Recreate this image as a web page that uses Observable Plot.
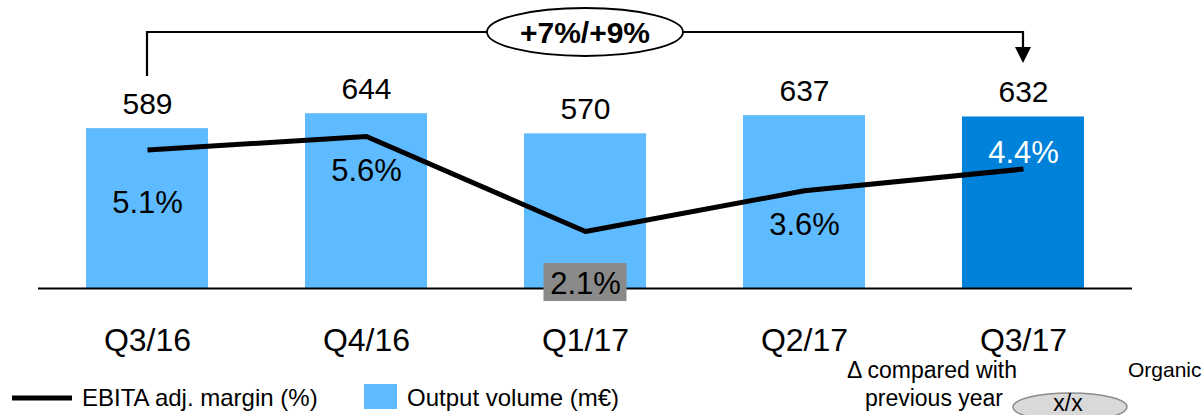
<!DOCTYPE html>
<html><head><meta charset="utf-8">
<script src="https://cdn.jsdelivr.net/npm/d3@7"></script>
<script src="https://cdn.jsdelivr.net/npm/@observablehq/plot@0.6"></script>
<style>
body{margin:0;background:#fff;}
#chart svg{font-family:"Liberation Sans",Arial,sans-serif;}
</style>
</head><body><div id="chart"></div>
<script>
// ---- data ----
const quarters = ["Q3/16","Q4/16","Q1/17","Q2/17","Q3/17"];
const outputVolume = [589,644,570,637,632];          // m€
const ebitaMargin = [5.1,5.6,2.1,3.6,4.4];           // %
const marginLabels = ["5.1%","5.6%","2.1%","3.6%","4.4%"];
const changeLabel = "+7%/+9%";
const legendLabels = ["EBITA adj. margin (%)","Output volume (m€)"];
const noteLines = ["Δ compared with","previous year"];
const noteBadge = "x/x";
const noteRight = "Organic";

// ---- styling ----
const LIGHT = "#5EBBFF", DARK = "#0082DA", GREY = "#8A8A8A";
const FONT = "Liberation Sans, Arial, sans-serif";
const marginToVolume = 100;             // 1 % drawn at the height of 100 m€
const marginLabelDy = [63,44,62,44,-6]; // label baseline offset from line point

const data = quarters.map((q,i)=>({
  q, vol: outputVolume[i], m: ebitaMargin[i] * marginToVolume,
  label: marginLabels[i], current: i === quarters.length - 1
}));

const plot = Plot.plot({
  width: 1203, height: 415,
  marginLeft: 38, marginRight: 71, marginTop: 0, marginBottom: 127,
  style: {fontFamily: FONT, background: "white", overflow: "visible"},
  x: {domain: quarters, paddingInner: 0.443, paddingOuter: 0.219, axis: null},
  y: {domain: [0, 1000], range: [288, 288 - 271.4], axis: null},
  color: {type: "identity"},
  marks: [
    Plot.barY(data, {x: "q", y: "vol", fill: d => d.current ? DARK : LIGHT}),
    Plot.ruleY([0], {stroke: "black", strokeWidth: 2}),
    Plot.text(data, {x: "q", y: "vol", text: d => String(d.vol), dy: -15,
      lineAnchor: "bottom", fontSize: 30, fill: "black"}),
    Plot.line(data, {x: "q", y: "m", stroke: "black", strokeWidth: 5,
      strokeLinejoin: "miter", strokeLinecap: "butt"}),
    ...data.map((d,i) => Plot.text([d], {x: "q", y: "m", text: "label",
      dy: marginLabelDy[i], lineAnchor: "bottom", fontSize: 31,
      fill: d.current ? "white" : "black", className: "mlabel-" + i})),
    Plot.axisX({fontSize: 32, tickSize: 0, tickPadding: 40, label: null, fill: "black"})
  ]
});
document.getElementById("chart").append(plot);

const svg = d3.select(plot);
const xs = plot.scale("x"), ys = plot.scale("y");
const cx = q => xs.apply(q) + xs.bandwidth / 2;

// grey box behind the lowest margin label
const lowIdx = ebitaMargin.indexOf(d3.min(ebitaMargin));
const lowG = plot.querySelector(".mlabel-" + lowIdx);
{
  const d = data[lowIdx];
  const bx = cx(d.q), by = ys.apply(d.m) + marginLabelDy[lowIdx];
  const r = document.createElementNS("http://www.w3.org/2000/svg", "rect");
  r.setAttribute("x", bx - 41.5); r.setAttribute("y", by - 30);
  r.setAttribute("width", 83); r.setAttribute("height", 38);
  r.setAttribute("fill", GREY);
  if (lowG) plot.insertBefore(r, lowG); else plot.appendChild(r);
}

// bracket with arrow from first to last quarter
const g = svg.append("g");
const xa = cx(quarters[0]), xb = cx(quarters[quarters.length - 1]);
g.append("path")
  .attr("d", `M${xa},76V32H${xb}V49`)
  .attr("fill", "none").attr("stroke", "black").attr("stroke-width", 2.2);
g.append("path")
  .attr("d", `M${xb-8},47L${xb+8},47L${xb},63Z`).attr("fill", "black");
const xm = (xa + xb) / 2;
g.append("ellipse").attr("cx", xm).attr("cy", 32).attr("rx", 98).attr("ry", 24)
  .attr("fill", "white").attr("stroke", "black").attr("stroke-width", 1.8);
g.append("text").attr("x", xm).attr("y", 43).attr("text-anchor", "middle")
  .attr("font-size", 30).attr("font-weight", "bold").attr("font-family", FONT)
  .text(changeLabel);

// legend
const lg = svg.append("g").attr("font-family", FONT).attr("font-size", 24)
  .attr("fill", "black").attr("text-anchor", "start");
lg.append("line").attr("x1", 12).attr("x2", 72).attr("y1", 398).attr("y2", 398)
  .attr("stroke", "black").attr("stroke-width", 5);
lg.append("text").attr("x", 82).attr("y", 406).text(legendLabels[0]);
lg.append("rect").attr("x", 364).attr("y", 384).attr("width", 33).attr("height", 25).attr("fill", LIGHT);
lg.append("text").attr("x", 407).attr("y", 406).text(legendLabels[1]);

const ng = svg.append("g").attr("font-family", FONT).attr("font-size", 23).attr("fill", "black");
ng.append("text").attr("x", 932).attr("y", 378).attr("text-anchor", "middle").text(noteLines[0]);
ng.append("text").attr("x", 934).attr("y", 406).attr("text-anchor", "middle").text(noteLines[1]);
ng.append("ellipse").attr("cx", 1070).attr("cy", 407).attr("rx", 57).attr("ry", 14)
  .attr("fill", "#D9D9D9").attr("stroke", "#8C8C8C").attr("stroke-width", 1.5);
ng.append("text").attr("x", 1068).attr("y", 411).attr("text-anchor", "middle").text(noteBadge);
ng.append("text").attr("x", 1128).attr("y", 377).attr("text-anchor", "start")
  .attr("font-size", 21).text(noteRight);
</script>
</body></html>
